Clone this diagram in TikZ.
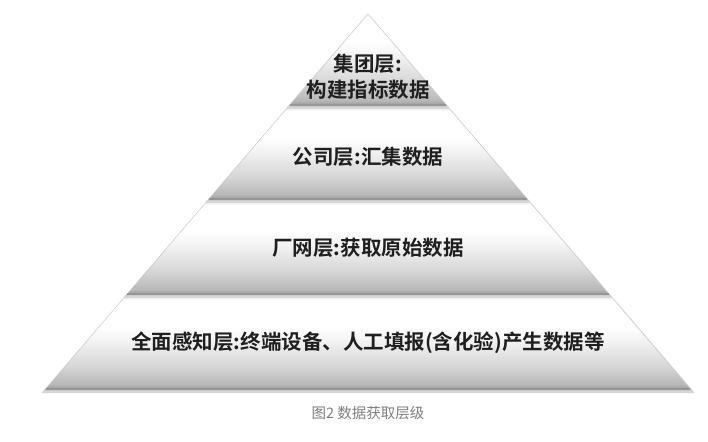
\documentclass[tikz,border=0pt]{standalone}
\usepackage{fontspec}
\usepackage{tikz}
\usetikzlibrary{positioning,calc}
\newfontfamily\cjk{Noto Sans CJK SC}[BoldFont={Noto Sans CJK SC Bold}]
\definecolor{capgray}{RGB}{128,128,128}
\definecolor{edgegray}{RGB}{150,150,150}
\pgfdeclareverticalshading{layershade}{100bp}{%
  color(0bp)=(black!42); color(25bp)=(black!42); color(28bp)=(black!28);
  color(38bp)=(black!16); color(52bp)=(black!5); color(60bp)=(white);
  color(100bp)=(white)}

\begin{document}
\begin{tikzpicture}[
  x=1pt, y=-1pt,
  layer/.style={shading=layershade, draw=black!22, line width=0.4pt},
  baseedge/.style={draw=edgegray, line width=1.6pt},
  shadow/.style={fill=black!16},
  lbl/.style={font=\cjk\bfseries\fontsize{20.5}{26}\selectfont, align=center, text=black!88},
  captext/.style={font=\cjk\fontsize{14.5}{17}\selectfont, text=capgray}
]
  \fill[white] (0,0) rectangle (708,441);
  \useasboundingbox (0,0) rectangle (708,441);
  % faint outline of the whole pyramid
  \draw[black!18] (45,390) -- (368,14) -- (692,390);
  % layers, apex at (368,14), half width grows 0.86 per unit
  \foreach \yt/\yb in {14/106, 110/200, 204/295, 299/390}{
    \pgfmathsetmacro{\wt}{0.86*(\yt-14)}
    \pgfmathsetmacro{\wb}{0.86*(\yb-14)}
    \fill[shadow] (368-\wb-1,\yb) -- (368+\wb+1,\yb) -- (368+\wb+3,\yb+3) -- (368-\wb-3,\yb+3) -- cycle;
    \shade[layer] (368-\wt,\yt) -- (368+\wt,\yt) -- (368+\wb,\yb) -- (368-\wb,\yb) -- cycle;
    \draw[baseedge] (368-\wb+1,\yb-0.8) -- (368+\wb-1,\yb-0.8);
  }

  \node[lbl] (group) at (368,77) {集团层:\\构建指标数据};
  \node[lbl] (company) at (368,157) {公司层:汇集数据};
  \node[lbl] (plant) at (368,248) {厂网层:获取原始数据};
  \node[lbl] (sense) at (368,343) {全面感知层:终端设备、人工填报(含化验)产生数据等};
  \node[captext] (caption) at (368,413) {图2 数据获取层级};
\end{tikzpicture}
\end{document}
